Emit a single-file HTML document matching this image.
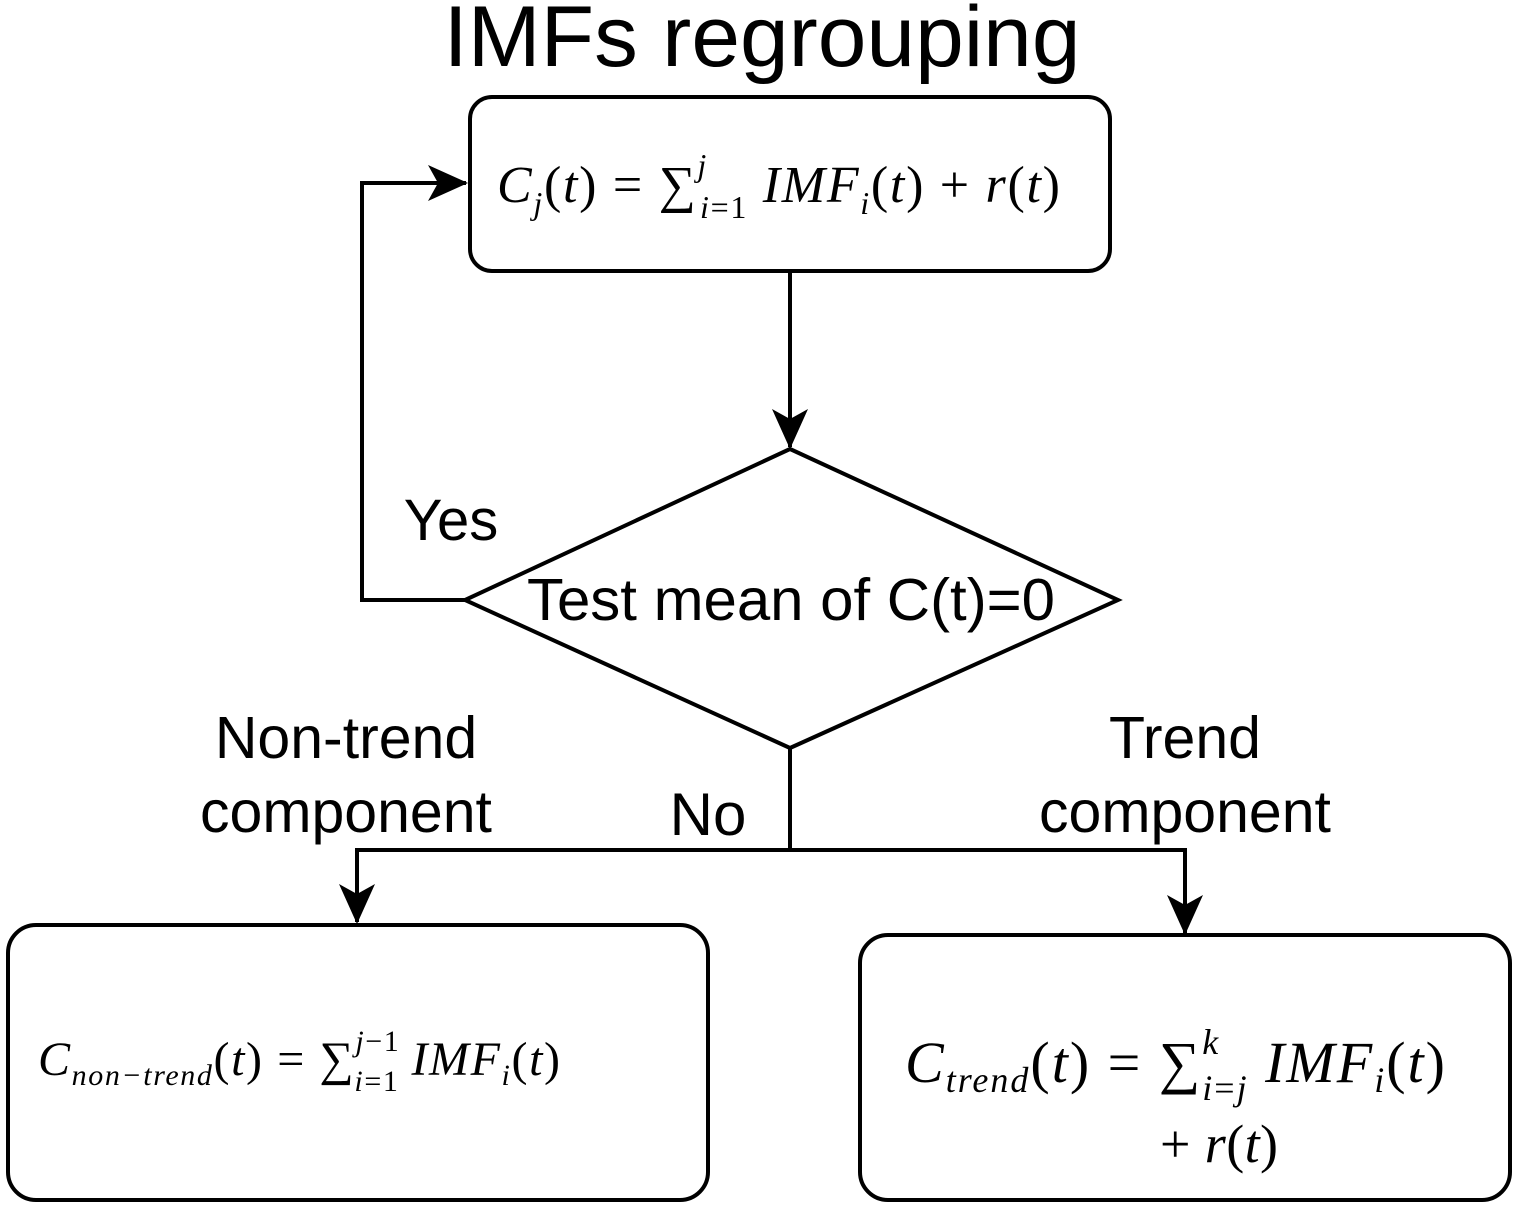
<!DOCTYPE html>
<html><head><meta charset="utf-8"><style>
html,body{margin:0;padding:0;background:#fff;}
svg{display:block}
.s{font-family:"Liberation Sans",sans-serif;fill:#000}
.m{font-family:"Liberation Serif",serif;fill:#000}
</style></head><body>
<svg width="1514" height="1205" viewBox="0 0 1514 1205" xmlns="http://www.w3.org/2000/svg">
<defs><marker id="a" markerWidth="40" markerHeight="40" refX="38" refY="20" orient="auto" markerUnits="userSpaceOnUse" viewBox="0 0 40 40"><path d="M0,2 L40,20 L0,38 L10,20 z" fill="#000"/></marker></defs>
<text class="s" x="762" y="66" font-size="86" text-anchor="middle" textLength="637" lengthAdjust="spacingAndGlyphs">IMFs regrouping</text>
<rect x="470" y="97" width="640" height="174" rx="22" fill="#fff" stroke="#000" stroke-width="4"/>
<text class="m" x="497" y="202" font-size="52" textLength="563" lengthAdjust="spacing"><tspan font-style="italic">C</tspan><tspan font-style="italic" font-size="32" dy="12">j</tspan><tspan dy="-12">(</tspan><tspan font-style="italic">t</tspan>) = ∑<tspan font-style="italic" font-size="32" dy="-26">j</tspan><tspan font-size="32" dx="-8" dy="42"><tspan font-style="italic">i</tspan>=1</tspan><tspan dy="-16" font-style="italic"> IMF</tspan><tspan font-style="italic" font-size="32" dy="12">i</tspan><tspan dy="-12">(</tspan><tspan font-style="italic">t</tspan>) + <tspan font-style="italic">r</tspan>(<tspan font-style="italic">t</tspan>)</text>
<g stroke="#000" stroke-width="4" fill="none">
<line x1="790" y1="271" x2="790" y2="447" marker-end="url(#a)"/>
<polygon points="790,449 1118,600 790,748 465,600" fill="#fff"/>
<polyline points="465,600 362,600 362,183 466,183" marker-end="url(#a)"/>
<line x1="790" y1="748" x2="790" y2="850"/>
<line x1="355" y1="850" x2="1187" y2="850"/>
<line x1="357" y1="848" x2="357" y2="922" marker-end="url(#a)"/>
<line x1="1185" y1="848" x2="1185" y2="933" marker-end="url(#a)"/>
<rect x="8" y="925" width="700" height="275" rx="28" fill="#fff"/>
<rect x="860" y="935" width="650" height="265" rx="28" fill="#fff"/>
</g>
<text class="s" x="451" y="540" font-size="58" text-anchor="middle">Yes</text>
<text class="s" x="791" y="620" font-size="59" text-anchor="middle" textLength="528" lengthAdjust="spacingAndGlyphs">Test mean of C(t)=0</text>
<text class="s" x="346" y="758" font-size="59" text-anchor="middle">Non-trend</text>
<text class="s" x="346" y="832" font-size="59" text-anchor="middle">component</text>
<text class="s" x="708" y="835" font-size="60" text-anchor="middle">No</text>
<text class="s" x="1185" y="758" font-size="59" text-anchor="middle">Trend</text>
<text class="s" x="1185" y="832" font-size="59" text-anchor="middle">component</text>
<text class="m" x="38" y="1075" font-size="48" textLength="522" lengthAdjust="spacing"><tspan font-style="italic">C</tspan><tspan font-style="italic" font-size="30" dy="10">non−trend</tspan><tspan dy="-10">(</tspan><tspan font-style="italic">t</tspan>) = ∑<tspan font-size="30" dy="-24"><tspan font-style="italic">j</tspan>−1</tspan><tspan font-size="30" dx="-46" dy="40"><tspan font-style="italic">i</tspan>=1</tspan><tspan dy="-16" dx="12" font-style="italic">IMF</tspan><tspan font-style="italic" font-size="30" dy="10">i</tspan><tspan dy="-10">(</tspan><tspan font-style="italic">t</tspan>)</text>
<text class="m" x="905" y="1082" font-size="58" textLength="540" lengthAdjust="spacing"><tspan font-style="italic">C</tspan><tspan font-style="italic" font-size="36" dy="10">trend</tspan><tspan dy="-10">(</tspan><tspan font-style="italic">t</tspan>) = ∑<tspan font-style="italic" font-size="36" dy="-28">k</tspan><tspan font-size="36" dx="-18" dy="46"><tspan font-style="italic">i</tspan>=<tspan font-style="italic">j</tspan></tspan><tspan dy="-18" font-style="italic"> IMF</tspan><tspan font-style="italic" font-size="36" dy="10">i</tspan><tspan dy="-10">(</tspan><tspan font-style="italic">t</tspan>)</text>
<text class="m" x="1160" y="1162" font-size="54" textLength="118" lengthAdjust="spacing">+ <tspan font-style="italic">r</tspan>(<tspan font-style="italic">t</tspan>)</text>
</svg>
</body></html>
